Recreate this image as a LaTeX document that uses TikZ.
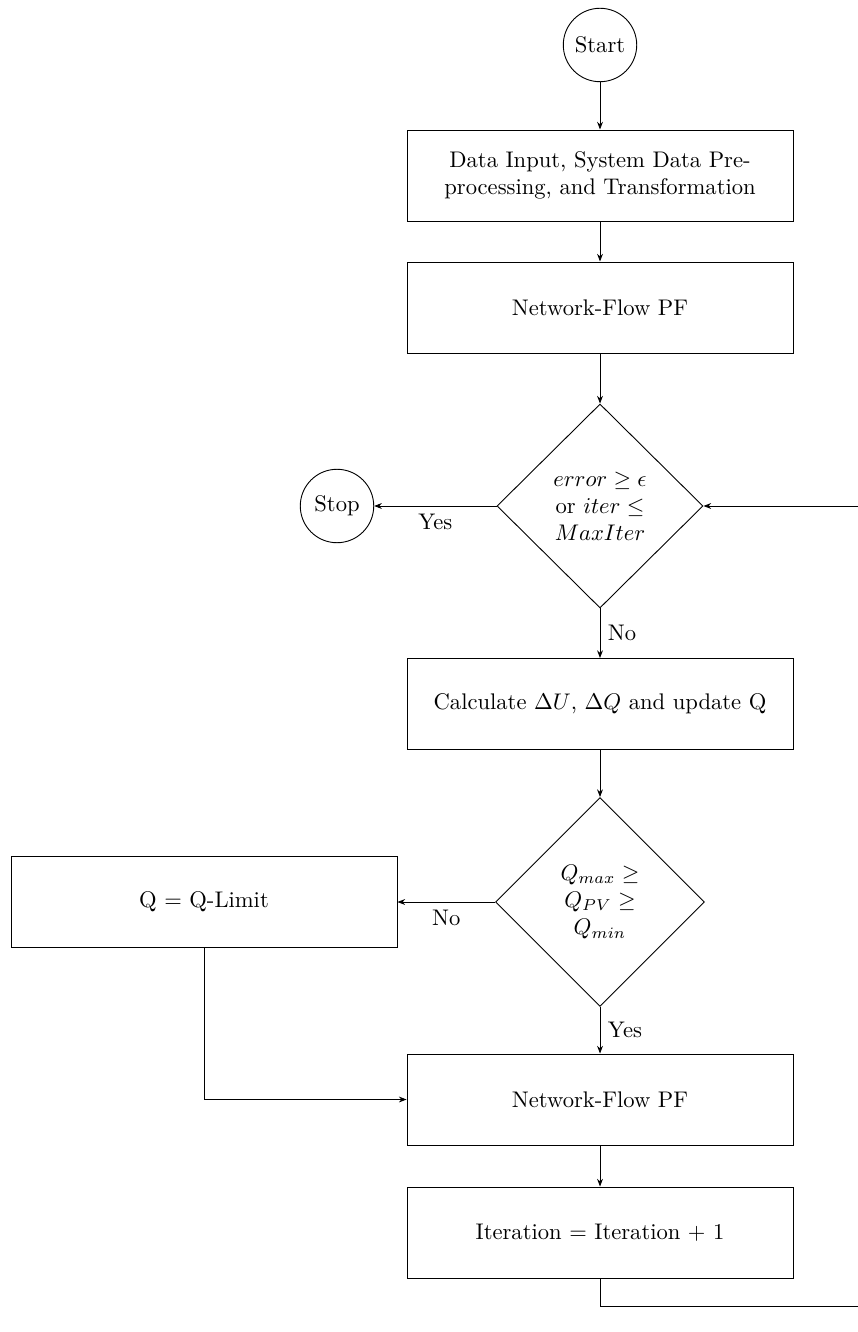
\documentclass[tikz,border=0pt]{standalone}
\usetikzlibrary{shapes.geometric,arrows.meta,calc}
\begin{document}
\begin{tikzpicture}[x=0.4425pt,y=-0.4425pt,
  box/.style={draw,rectangle,minimum width=170.8pt,minimum height=40.3pt,align=center,inner sep=2pt},
  term/.style={draw,circle,minimum size=32.5pt,inner sep=1pt},
  dec/.style={draw,diamond,minimum width=91.5pt,minimum height=91.5pt,inner sep=0pt,align=center},
  arr/.style={-{Stealth[length=3.4pt,width=2.6pt]}}]
\useasboundingbox (0,0) rectangle (857,1332);
\node[term] (start) at (600,45) {Start};
\node[box] (b1) at (600,175.5) {Data Input, System Data Pre-\\processing, and Transformation};
\node[box] (b2) at (600,307.5) {Network-Flow PF};
\node[dec,minimum width=206pt*0.4425,minimum height=204pt*0.4425] (d1) at (600,506) {$error \geq \epsilon$\\ or $iter \leq$\\ $MaxIter$};
\node[term] (stop) at (337,506) {Stop};
\node[box] (b3) at (600,704) {Calculate $\Delta U$, $\Delta Q$ and update Q};
\node[dec,minimum width=209pt*0.4425,minimum height=209pt*0.4425] (d2) at (600,902) {$Q_{max} \geq$\\ $Q_{PV} \geq$\\ $Q_{min}$};
\node[box] (q) at (204,902) {Q = Q-Limit};
\node[box] (b4) at (600,1099.5) {Network-Flow PF};
\node[box] (b5) at (600,1232.5) {Iteration = Iteration + 1};
\coordinate (c1) at (600,1306);
\coordinate (c2) at (858,1306);
\coordinate (c3) at (858,506);

\draw[arr] (start) -- (b1);
\draw[arr] (b1) -- (b2);
\draw[arr] (b2) -- (d1);
\draw[arr] (d1.west) -- node[midway,below] {Yes} (stop.east);
\draw[arr] (d1) -- node[midway,right] {No} (b3);
\draw[arr] (b3) -- (d2);
\draw[arr] (d2.west) -- node[midway,below] {No} (q.east);
\draw[arr] (d2) -- node[midway,right] {Yes} (b4);
\draw[arr] (q.south) |- (b4.west);
\draw[arr] (b4) -- (b5);
\draw[arr] (b5.south) -- (c1) -- (c2) -- (c3) -- (d1.east);
\end{tikzpicture}
\end{document}
